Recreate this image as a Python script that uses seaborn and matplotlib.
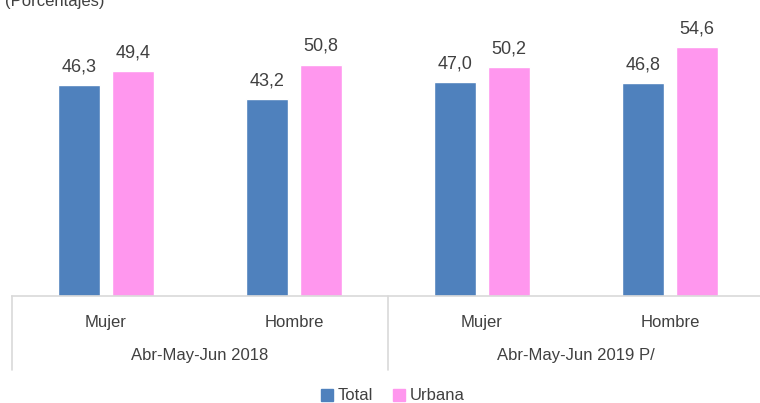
import pandas as pd
import matplotlib.pyplot as plt
import seaborn as sns

periodos = ["Abr-May-Jun 2018", "Abr-May-Jun 2019 P/"]
sexos = ["Mujer", "Hombre"]
total = [46.3, 43.2, 47.0, 46.8]
urbana = [49.4, 50.8, 50.2, 54.6]

claves = [f"{s} {p}" for p in periodos for s in sexos]
df = pd.DataFrame({
    "cat": claves * 2,
    "valor": total + urbana,
    "serie": ["Total"] * 4 + ["Urbana"] * 4,
})

sns.set_style("white")
plt.rcParams['font.family'] = ['Liberation Sans', 'DejaVu Sans']
gris = "#404040"
linea = "#D9D9D9"

fig = plt.figure(figsize=(7.6, 4.03), dpi=100)
ax = fig.add_axes([12 / 760, 107 / 403, 748 / 760, 296 / 403])

sns.barplot(data=df, x="cat", y="valor", hue="serie", order=claves,
            palette={"Total": "#4F81BD", "Urbana": "#FF97EE"}, saturation=1,
            width=0.574, gap=0.22, ax=ax, legend=False)

for cont in ax.containers:
    ax.bar_label(cont, labels=[f"{v:.1f}".replace(".", ",") for v in cont.datavalues],
                 padding=7, fontsize=13, color=gris)

ax.set_ylim(0, 65)
ax.set_xlim(-0.5, 3.479)
ax.set_xticks([])
ax.set_yticks([])
ax.set_xlabel("")
ax.set_ylabel("")
for lado in ["top", "right", "left"]:
    ax.spines[lado].set_visible(False)
ax.spines["bottom"].set_color(linea)
ax.spines["bottom"].set_linewidth(1.2)

tr = ax.get_xaxis_transform()
for i, clave in enumerate(claves):
    ax.text(i, -0.088, sexos[i % 2], transform=tr, ha="center", va="center",
            fontsize=12, color=gris)
for j, p in enumerate(periodos):
    ax.text(j * 2 + 0.5, -0.2, p, transform=tr, ha="center", va="center",
            fontsize=12, color=gris)
for xv in [-0.5, 1.5, 3.5]:
    ax.plot([xv, xv], [0, -0.25], transform=tr, color=linea, lw=1.2, clip_on=False)

fig.text(5 / 760, 1 - 6 / 403, "(Porcentajes)", fontsize=12, color=gris,
         ha="left", va="baseline")

handles = [plt.Rectangle((0, 0), 1, 1, color="#4F81BD"),
           plt.Rectangle((0, 0), 1, 1, color="#FF97EE")]
fig.legend(handles, ["Total", "Urbana"], loc="center", ncol=2,
           bbox_to_anchor=(393 / 760, 1 - 396 / 403), frameon=False,
           fontsize=12, handlelength=0.7, handleheight=0.7, handletextpad=0.3,
           columnspacing=1.2, labelcolor=gris)

fig.savefig("out.png", dpi=100)
